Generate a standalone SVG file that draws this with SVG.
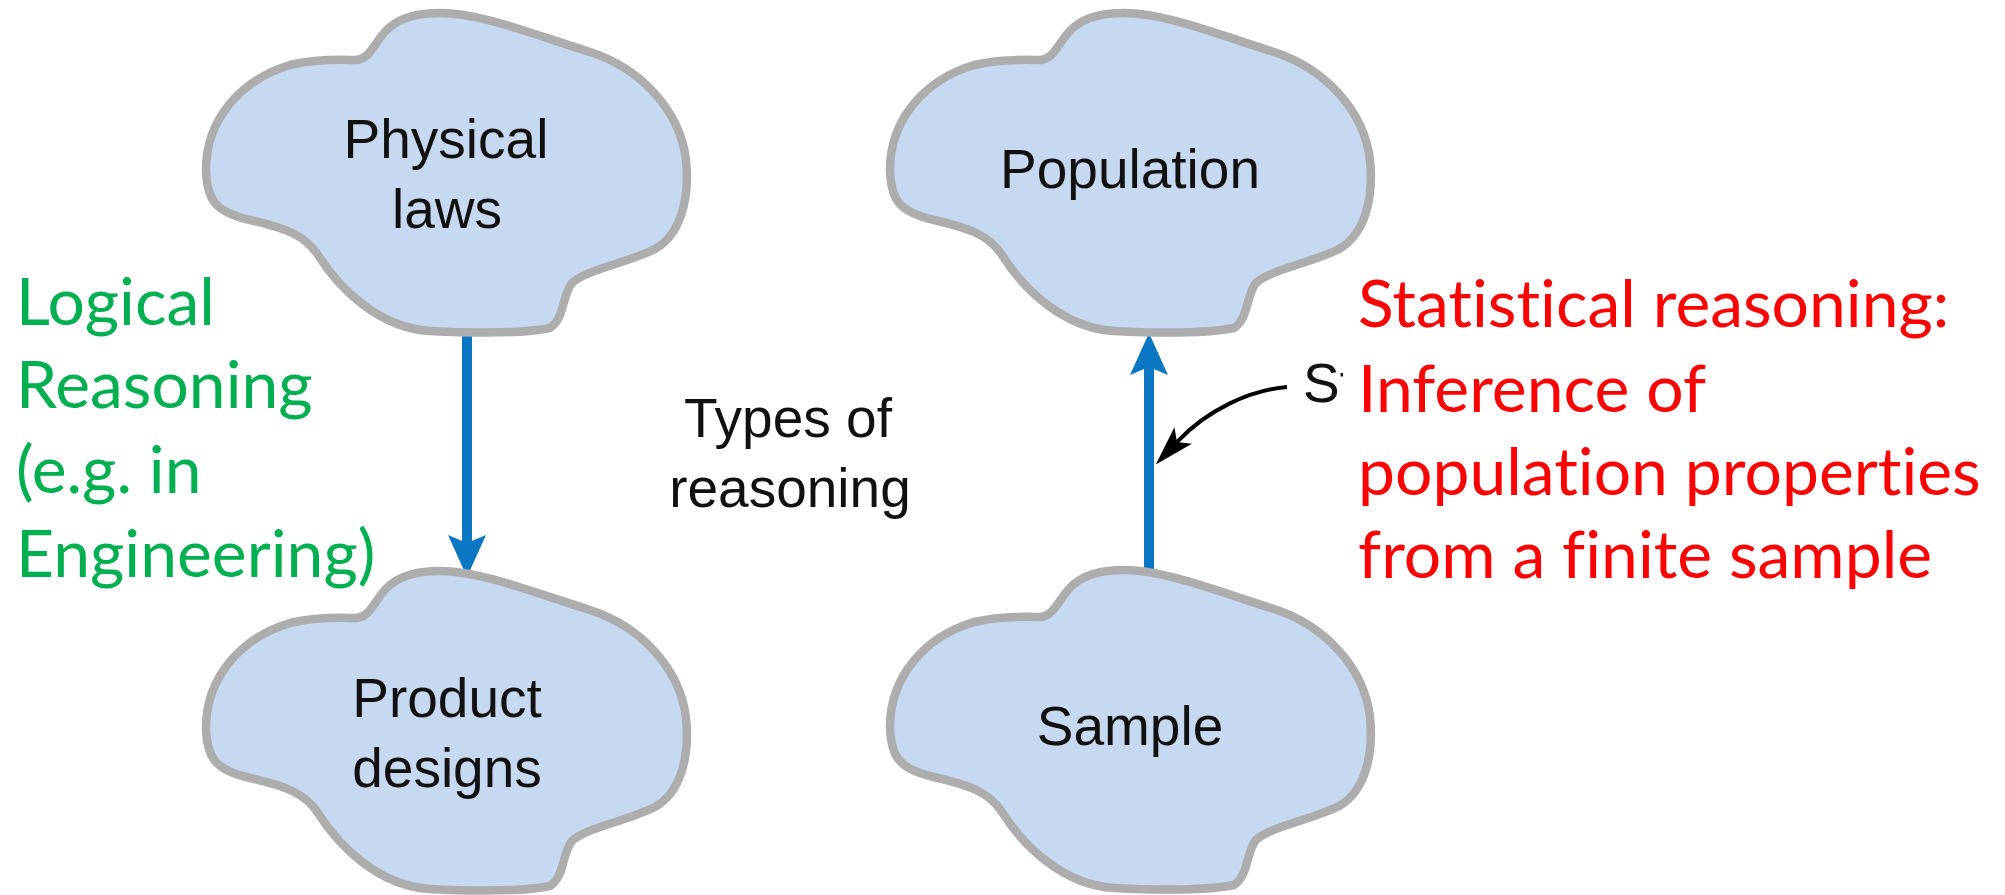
<svg xmlns="http://www.w3.org/2000/svg" width="2005" height="895" viewBox="0 0 2005 895">
<style>
.cloud{fill:#c6d9f0;stroke:#adadad;stroke-width:8.5;stroke-linejoin:round}
.lbl{font-family:"Liberation Sans",Arial,sans-serif;font-size:55px;fill:#111;text-anchor:middle}
.green{font-family:Lato,"Liberation Sans",sans-serif;font-size:66px;fill:#00b050;font-variant-ligatures:none}
.red{font-family:Lato,"Liberation Sans",sans-serif;font-size:66px;fill:#ff0000;font-variant-ligatures:none}
.blue{stroke:#0b76c1;stroke-width:10;fill:none}
</style>
<defs>
<path id="cloudShape" d="M 357,60 C 372,58 376,38 390,27 C 402,17 418,13 440,13 C 480,13 530,33 590,52 C 640,68 680,110 686,160 C 690,200 680,235 655,249 C 630,262 585,270 572,283 C 562,295 565,318 550,328 C 520,334 470,333 430,331 C 380,328 340,290 318,255 C 305,235 285,228 250,220 C 215,212 207,200 206,170 C 206,120 240,80 290,65 C 320,58 345,60 357,60 Z"/>
<marker id="blueHead" viewBox="0 0 42 38" refX="8" refY="19" markerWidth="42" markerHeight="38" markerUnits="userSpaceOnUse" orient="auto">
<path d="M0,0 L42,19 L0,38 L8,19 Z" fill="#0b76c1"/>
</marker>
<marker id="blackHead" viewBox="0 0 40 24" refX="9" refY="12" markerWidth="40" markerHeight="24" markerUnits="userSpaceOnUse" orient="auto">
<path d="M0,0 L40,12 L0,24 L9,12 Z" fill="#000"/>
</marker>
<clipPath id="sclip"><rect x="1280" y="340" width="63" height="80"/></clipPath>
</defs>

<g id="connectors">
<line class="blue" x1="467" y1="334" x2="467" y2="543" marker-end="url(#blueHead)"/>
<line class="blue" x1="1149" y1="574" x2="1149" y2="367" marker-end="url(#blueHead)"/>
<path d="M1287,387 C1250,390 1207,410 1177,442" fill="none" stroke="#000" stroke-width="4" marker-end="url(#blackHead)"/>
</g>

<g id="node-physical-laws">
<use href="#cloudShape" class="cloud"/>
<text class="lbl" x="446" y="158">Physical</text>
<text class="lbl" x="447" y="228">laws</text>
</g>
<g id="node-population">
<use href="#cloudShape" class="cloud" transform="translate(684,0)"/>
<text class="lbl" x="1130" y="188">Population</text>
</g>
<g id="node-product-designs">
<use href="#cloudShape" class="cloud" transform="translate(0,558)"/>
<text class="lbl" x="447" y="717">Product</text>
<text class="lbl" x="447" y="787">designs</text>
</g>
<g id="node-sample">
<use href="#cloudShape" class="cloud" transform="translate(684,557)"/>
<text class="lbl" x="1130" y="745">Sample</text>
</g>

<g id="label-types">
<text class="lbl" x="788" y="437">Types of</text>
<text class="lbl" x="790" y="507">reasoning</text>
</g>

<g id="label-s">
<text class="lbl" x="1303" y="402" style="text-anchor:start" clip-path="url(#sclip)">St</text>
</g>

<g id="label-logical">
<text class="green" x="16" y="325">Logical</text>
<text class="green" x="16" y="408">Reasoning</text>
<text class="green" x="16" y="493">(e.g. in</text>
<text class="green" x="16" y="577">Engineering)</text>
</g>

<g id="label-statistical">
<text class="red" x="1358" y="327">Statistical reasoning:</text>
<text class="red" x="1358" y="412">Inference of</text>
<text class="red" x="1358" y="495">population properties</text>
<text class="red" x="1358" y="578">from a finite sample</text>
</g>
</svg>
